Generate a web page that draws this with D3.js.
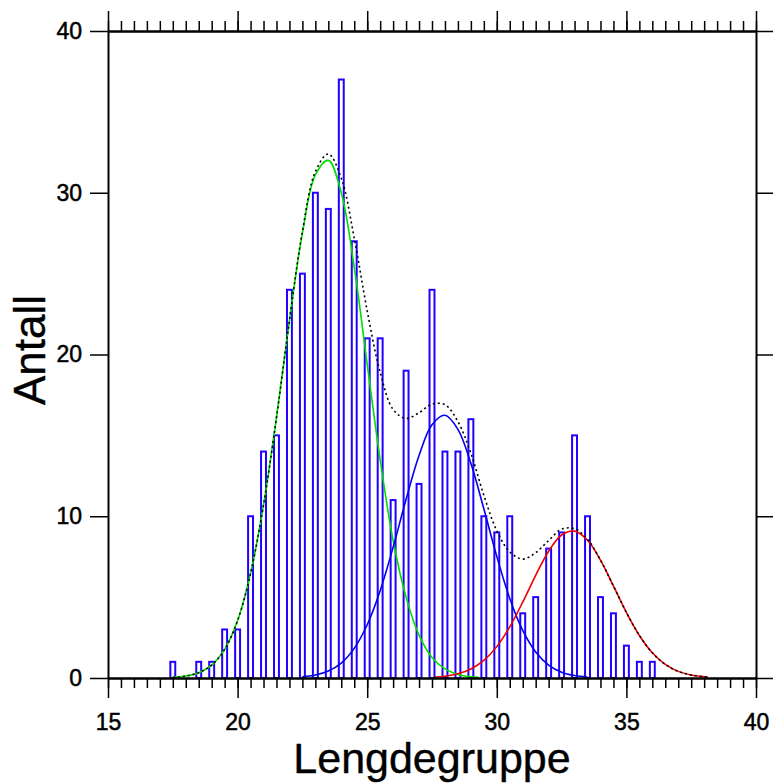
<!DOCTYPE html>
<html>
<head>
<meta charset="utf-8">
<script src="https://cdn.jsdelivr.net/npm/d3@7"></script>
<style>
  body { margin: 0; background: #fff; }
  text { font-family: "Liberation Sans", Arial, sans-serif; }
</style>
</head>
<body>
<svg width="773" height="784"></svg>
<script>
// histogram: bin centres (cm) and counts
const binCenters = [17.5, 18, 18.5, 19, 19.5, 20, 20.5, 21, 21.5, 22, 22.5, 23, 23.5, 24, 24.5, 25, 25.5, 26, 26.5,
  27, 27.5, 28, 28.5, 29, 29.5, 30, 30.5, 31, 31.5, 32, 32.5, 33, 33.5, 34, 34.5, 35, 35.5, 36];
const counts = [1, 0, 1, 1, 3, 3, 10, 14, 15, 24, 25, 30, 29, 37, 27, 21, 21, 11, 19,
  12, 24, 14, 14, 16, 10, 9, 10, 4, 5, 8, 9, 15, 10, 5, 4, 2, 1, 1];

// fitted components
const greenX = [17.5, 18, 18.5, 19, 19.5, 20, 20.5, 21, 21.5, 22, 22.5, 23, 23.5, 24, 24.5, 25, 25.5, 26, 26.5, 27, 27.5, 28, 28.5, 29, 29.3];
const greenY = [0.04, 0.12, 0.33, 0.8, 1.77, 3.55, 6.47, 10.7, 16.1, 22.1, 27.5, 31.1, 32.0, 30.0, 25.4, 19.4, 13.5, 8.5, 5.0, 2.65, 1.27, 0.56, 0.22, 0.08, 0.05];

const blueX = [22.5, 23, 23.5, 24, 24.5, 25, 25.5, 26, 26.5, 27, 27.5, 28, 28.5, 29, 29.5, 30, 30.5, 31, 31.5, 32, 32.5, 33, 33.5];
const blueY = [0.07, 0.18, 0.43, 0.92, 1.83, 3.29, 5.4, 8.08, 11.05, 13.76, 15.66, 16.24, 15.37, 13.27, 10.46, 7.51, 4.92, 2.94, 1.61, 0.8, 0.36, 0.15, 0.06];

const redX = [27.6, 28, 28.5, 29, 29.5, 30, 30.5, 31, 31.5, 32, 32.5, 33, 33.5, 34, 34.5, 35, 35.5, 36, 36.5, 37, 37.5, 38, 38.15];
const redY = [0.06, 0.11, 0.26, 0.56, 1.09, 1.94, 3.16, 4.69, 6.35, 7.84, 8.84, 9.08, 8.52, 7.29, 5.69, 4.05, 2.63, 1.56, 0.84, 0.41, 0.19, 0.08, 0.06];

const totalX = [17.5, 18, 18.5, 19, 19.5, 20, 20.5, 21, 21.5, 22, 22.5, 23, 23.5, 24, 24.5, 25, 25.5, 26, 26.5, 27, 27.5,
  28, 28.5, 29, 29.5, 30, 30.5, 31, 31.5, 32, 32.5, 33, 33.5, 34, 34.5, 35, 35.5, 36, 36.5, 37, 37.5, 38, 38.15];
const totalY = [0.04, 0.12, 0.33, 0.8, 1.77, 3.55, 6.47, 10.7, 16.1, 22.1, 27.6, 31.3, 32.4, 30.9, 27.2, 22.7, 18.9, 16.6, 16.05, 16.4, 16.93,
  16.9, 15.85, 13.9, 11.3, 9.1, 7.8, 7.35, 7.75, 8.5, 9.2, 9.23, 8.58, 7.29, 5.69, 4.05, 2.63, 1.56, 0.84, 0.41, 0.19, 0.08, 0.06];

const xTicks = [15, 20, 25, 30, 35, 40];
const yTicks = [0, 10, 20, 30, 40];

const svg = d3.select('svg');
const x = d3.scaleLinear().domain([15, 40]).range([108, 756]);
const y = d3.scaleLinear().domain([0, 40]).range([678, 31]);
const xMinor = d3.range(15, 40.01, 0.5);

// bars
const barW = x(0.19) - x(0);
svg.append('g').selectAll('rect')
  .data(binCenters.map((c, i) => ({ c: c, n: counts[i] })).filter(d => d.n > 0))
  .enter().append('rect')
    .attr('x', d => x(d.c) - barW / 2)
    .attr('width', barW)
    .attr('y', d => y(d.n))
    .attr('height', d => y(0) - y(d.n))
    .attr('fill', '#fff')
    .attr('stroke', '#2200ff')
    .attr('stroke-width', 2);

// curves
const line = d3.line()
  .x(d => x(d[0]))
  .y(d => y(d[1]))
  .curve(d3.curveCatmullRom.alpha(0.5));

const drawCurve = (xs, ys, color, dash) => {
  svg.append('path')
    .datum(xs.map((v, i) => [v, ys[i]]))
    .attr('d', line)
    .attr('fill', 'none')
    .attr('stroke', color)
    .attr('stroke-width', 1.6)
    .attr('stroke-dasharray', dash || null);
};
drawCurve(greenX, greenY, '#00dd00');
drawCurve(blueX, blueY, '#0000ee');
drawCurve(redX, redY, '#ee0000');
drawCurve(totalX, totalY, '#000', '2,3');

// axes
const styleAxis = (g) => {
  g.attr('font-family', null).attr('font-size', null);
  g.select('.domain').attr('stroke-width', 2);
  g.selectAll('.tick line').attr('stroke-width', 1.5);
  g.selectAll('.tick text')
    .attr('font-size', 23)
    .attr('fill', '#000')
    .attr('stroke', '#000')
    .attr('stroke-width', 0.5);
};

svg.append('g').attr('transform', 'translate(0,678)')
  .call(d3.axisBottom(x).tickValues(xMinor).tickSize(10).tickSizeOuter(0).tickFormat(''))
  .call(styleAxis);
svg.append('g').attr('transform', 'translate(0,678)')
  .call(d3.axisBottom(x).tickValues(xTicks).tickSize(20).tickPadding(16).tickSizeOuter(0))
  .call(styleAxis);

svg.append('g').attr('transform', 'translate(0,31)')
  .call(d3.axisTop(x).tickValues(xMinor).tickSize(10).tickSizeOuter(0).tickFormat(''))
  .call(styleAxis);
svg.append('g').attr('transform', 'translate(0,31)')
  .call(d3.axisTop(x).tickValues(xTicks).tickSize(20).tickSizeOuter(0).tickFormat(''))
  .call(styleAxis);

svg.append('g').attr('transform', 'translate(108,0)')
  .call(d3.axisLeft(y).tickValues(yTicks).tickSize(18).tickPadding(8).tickSizeOuter(0))
  .call(styleAxis);
svg.append('g').attr('transform', 'translate(756,0)')
  .call(d3.axisRight(y).tickValues(yTicks).tickSize(17).tickSizeOuter(0).tickFormat(''))
  .call(styleAxis);

// titles
svg.append('text')
  .attr('x', 432)
  .attr('y', 773)
  .attr('text-anchor', 'middle')
  .attr('font-size', 43)
  .attr('stroke', '#000')
  .attr('stroke-width', 0.4)
  .text('Lengdegruppe');

svg.append('text')
  .attr('transform', 'translate(45,350) rotate(-90)')
  .attr('text-anchor', 'middle')
  .attr('font-size', 44)
  .attr('stroke', '#000')
  .attr('stroke-width', 0.4)
  .text('Antall');
</script>
</body>
</html>
